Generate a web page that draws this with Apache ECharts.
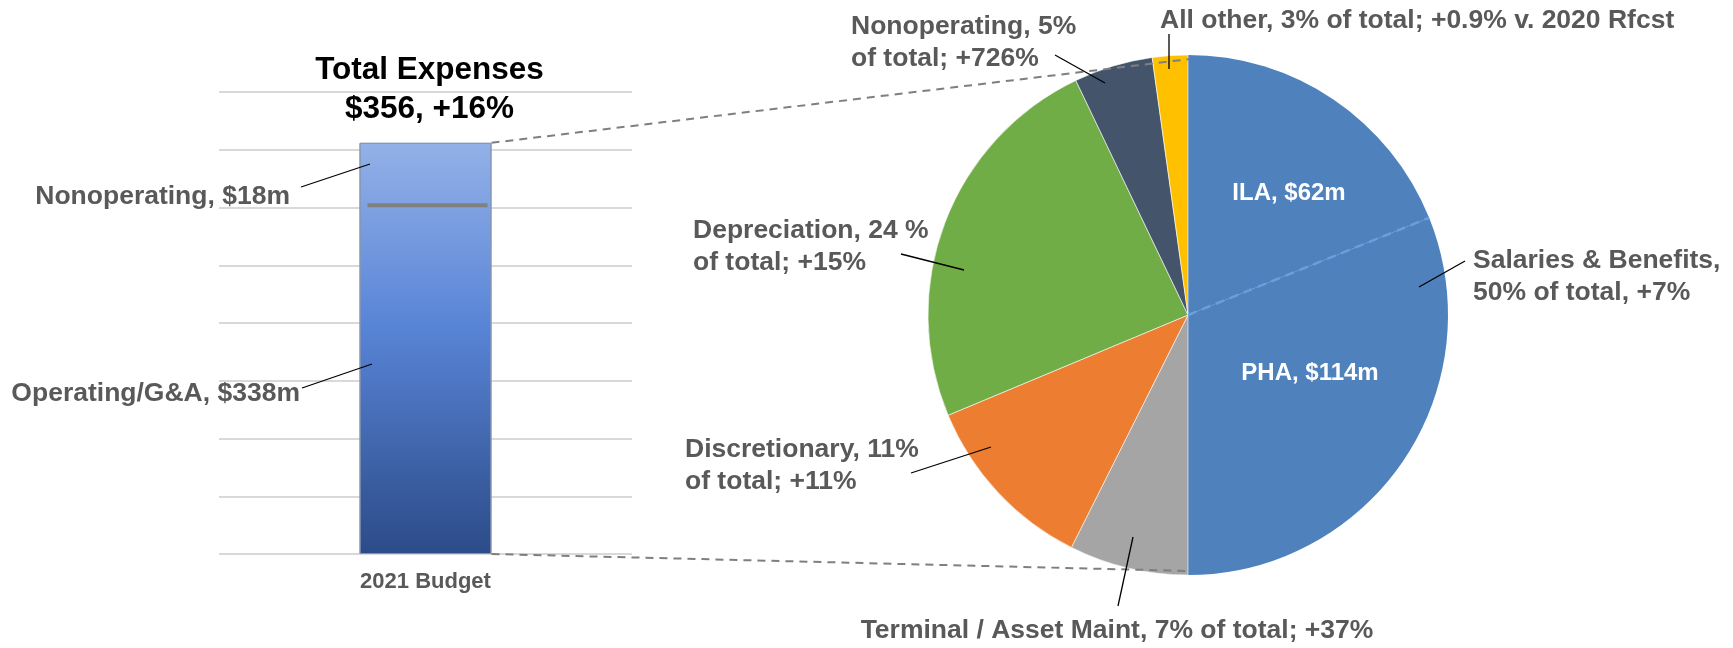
<!DOCTYPE html>
<html>
<head>
<meta charset="utf-8">
<script src="https://cdn.jsdelivr.net/npm/echarts@6/dist/echarts.min.js"></script>
<style>
  html, body { margin: 0; padding: 0; background: #fff; }
  #main { width: 1733px; height: 648px; }
</style>
</head>
<body>
<div id="main"></div>
<script>
// ---- data ----
const barCategories = ['2021 Budget'];
const operatingValue = 338;      // Operating/G&A, $m
const nonoperatingValue = 18;    // Nonoperating, $m
const dividerValue = 302;        // grey rule drawn across the bar in the source
const yMin = 0, yMax = 400, yStep = 50;

const pieNames = ['ILA', 'PHA', 'Terminal / Asset Maint', 'Discretionary', 'Depreciation', 'Nonoperating', 'All other'];
const pieShares = [18.9, 31.1, 7.4, 11.3, 24.2, 4.9, 2.2];   // % of the circle
const pieColors = ['#4F81BD', '#4F81BD', '#A5A5A5', '#ED7D31', '#70AD47', '#44546A', '#FFC000'];

// ---- layout ----
const FONT = '"Liberation Sans", Arial, sans-serif';
const PIE_CX = 1188, PIE_CY = 315, PIE_R = 260;
const BAR_W = 132;
const GREY = '#595959';

const chart = echarts.init(document.getElementById('main'));

const option = {
  animation: false,
  backgroundColor: '#fff',
  grid: { left: 219, top: 92, width: 413, height: 462 },
  xAxis: {
    type: 'category',
    data: barCategories,
    axisLine: { show: false },
    axisTick: { show: false },
    axisLabel: { fontSize: 22, fontWeight: 'bold', color: GREY, fontFamily: FONT, margin: 17 }
  },
  yAxis: {
    type: 'value',
    min: yMin, max: yMax, interval: yStep,
    axisLabel: { show: false },
    axisLine: { show: false },
    axisTick: { show: false },
    splitLine: { lineStyle: { color: '#d9d9d9', width: 2 } }
  },
  series: [
    {
      type: 'bar',
      barWidth: BAR_W,
      data: [operatingValue + nonoperatingValue],
      itemStyle: {
        color: new echarts.graphic.LinearGradient(0, 0, 0, 1, [
          { offset: 0, color: '#93b1e8' },
          { offset: 0.45, color: '#5884d6' },
          { offset: 1, color: '#2c4b88' }
        ]),
        borderColor: '#8596b0',
        borderWidth: 1
      }
    },
    {
      type: 'pie',
      center: [PIE_CX, PIE_CY],
      radius: PIE_R,
      startAngle: 90,
      clockwise: true,
      label: { show: false },
      labelLine: { show: false },
      emphasis: { disabled: true },
      data: pieNames.map((n, i) => ({
        name: n,
        value: pieShares[i],
        itemStyle: { color: pieColors[i], borderColor: '#fff', borderWidth: i < 2 ? 0 : 0.6 }
      }))
    }
  ]
};
chart.setOption(option);

// ---- annotations ----
const total = operatingValue + nonoperatingValue;
const [barX, barTopY] = chart.convertToPixel({ gridIndex: 0 }, [0, total]);
const barBottomY = chart.convertToPixel({ gridIndex: 0 }, [0, 0])[1];
const dividerY = chart.convertToPixel({ gridIndex: 0 }, [0, dividerValue])[1];
const barRight = barX + BAR_W / 2;

const sumShares = pieShares.reduce((a, b) => a + b, 0);
const splitAng = pieShares[0] / sumShares * 2 * Math.PI;

function txt(text, x, y, align, vAlign, opts) {
  opts = opts || {};
  return {
    type: 'text', z: 100, x: x, y: y,
    style: {
      text: text,
      textAlign: align,
      textVerticalAlign: vAlign,
      font: 'bold ' + (opts.size || 26.5) + 'px ' + FONT,
      fill: opts.fill || GREY,
      lineHeight: opts.lh || 32
    }
  };
}
function seg(x1, y1, x2, y2, style) {
  return { type: 'line', z: 90, shape: { x1, y1, x2, y2 }, style: Object.assign({ stroke: '#000', lineWidth: 1.3 }, style || {}) };
}
const dashed = { stroke: '#7f7f7f', lineWidth: 2, lineDash: [8, 6] };

chart.setOption({
  graphic: [
    // title
    txt('Total Expenses\n$356, +16%', barX + 4, 51, 'center', 'top', { size: 31.5, fill: '#000', lh: 39 }),
    // grey rule inside bar
    seg(barX - BAR_W / 2 + 8, dividerY, barRight - 4, dividerY, { stroke: '#808080', lineWidth: 4 }),
    // bar callouts
    txt('Nonoperating, $18m', 290, 197, 'right', 'middle'),
    seg(301, 187, 370, 164),
    txt('Operating/G&A, $338m', 300, 394, 'right', 'middle'),
    seg(302, 388, 372, 364),
    // connectors bar -> pie
    seg(barRight, barTopY, PIE_CX + 2, PIE_CY - PIE_R + 4, dashed),
    seg(barRight, barBottomY, PIE_CX + 2, PIE_CY + PIE_R - 4, dashed),
    // ILA / PHA split inside the blue slice
    seg(PIE_CX, PIE_CY, PIE_CX + PIE_R * Math.sin(splitAng), PIE_CY - PIE_R * Math.cos(splitAng),
        { stroke: '#6a9fdc', lineWidth: 2.5, lineDash: [9, 6] }),
    txt('ILA, $62m', 1289, 193, 'center', 'middle', { size: 24, fill: '#fff' }),
    txt('PHA, $114m', 1310, 373, 'center', 'middle', { size: 24, fill: '#fff' }),
    // pie callouts
    txt('Salaries & Benefits,\n50% of total, +7%', 1473, 245, 'left', 'top'),
    seg(1465, 261, 1419, 287),
    txt('Depreciation, 24 %\nof total; +15%', 693, 215, 'left', 'top'),
    seg(901, 254, 964, 270),
    txt('Discretionary, 11%\nof total; +11%', 685, 434, 'left', 'top'),
    seg(911, 473, 991, 447),
    txt('Terminal / Asset Maint, 7% of total; +37%', 1117, 631, 'center', 'middle'),
    seg(1118, 606, 1133, 537),
    txt('Nonoperating, 5%\nof total; +726%', 851, 11, 'left', 'top'),
    seg(1055, 55, 1105, 83),
    txt('All other, 3% of total; +0.9% v. 2020 Rfcst', 1160, 21, 'left', 'middle'),
    seg(1169, 34, 1169, 69)
  ]
});
</script>
</body>
</html>
